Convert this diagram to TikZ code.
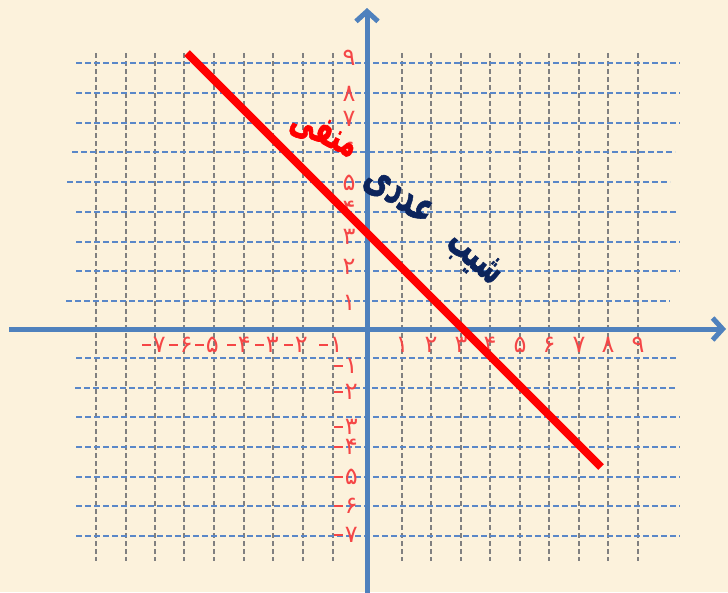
\documentclass[tikz,border=0pt]{standalone}
\usepackage{fontspec}
\usepackage{graphicx}
\newfontfamily\arabicfont[Script=Arabic,FakeBold=1.5]{DejaVu Sans}
\newfontfamily\digitfont{DejaVu Sans}
\TeXXeTstate=1
\usetikzlibrary{arrows.meta}
\definecolor{bgc}{RGB}{252,242,220}
\definecolor{axisblue}{RGB}{79,129,189}
\definecolor{gridblue}{RGB}{90,135,200}
\definecolor{gridgray}{RGB}{128,128,128}
\definecolor{digred}{RGB}{245,70,70}
\definecolor{navy}{RGB}{12,36,92}
\newcommand{\negsign}{\rule[7pt]{9pt}{1.3pt}\hspace{1.5pt}}
\tikzset{
  hgrid/.style={gridblue, line width=2pt, dash pattern=on 6pt off 3pt},
  vgrid/.style={gridgray, line width=1.5pt, dash pattern=on 5pt off 3pt},
  axisline/.style={axisblue, line width=5pt, -{Straight Barb[length=10pt,width=22pt]}},
  lab/.style={digred, font=\digitfont\fontsize{24}{24}\selectfont, inner sep=0pt},
  slopeline/.style={red, line width=8pt},
  word/.style={inner sep=0pt, font=\arabicfont\bfseries\fontsize{30}{30}\selectfont},
}
\begin{document}
\begin{tikzpicture}[x=1pt,y=-1pt]
\useasboundingbox (0,0) rectangle (728,592);
\fill[bgc] (0,0) rectangle (728,592);
% vertical grid lines
\foreach \x in {96,126,155,184,214,244,273,303,333,402,431,461,490,520,549,579,608,638}
  \draw[vgrid] (\x,53) -- (\x,561);
% horizontal grid lines
\foreach \y/\a/\b in {63/76/680,93/76/680,123/76/680,152/72/675,182/67/670,212/76/678,242/76/680,271/76/680,301/66/670,358/76/678,388/75/677,417/76/680,447/76/680,477/76/680,506/76/680,536/76/680}
  \draw[hgrid] (\a,\y) -- (\b,\y);
% axes
\coordinate (xl) at (9,329);
\coordinate (xr) at (726,329);
\coordinate (yb) at (367,594);
\coordinate (yt) at (367,8);
\draw[axisline] (xl) -- (xr);
\draw[axisline] (yb) -- (yt);
% x labels
\foreach \x/\d in {402/۱,431/۲,461/۳,490/۴,520/۵,549/۶,579/۷,608/۸,638/۹}
  \node[lab] (xp\d) at (\x,345) {\d};
\foreach \x/\d in {154/۷,181/۶,207/۵,239/۴,267/۳,296/۲,331/۱}
  \node[lab] (xn\d) at (\x,345) {\negsign\d};
% y labels
\foreach \y/\d in {58/۹,94/۸,119/۷,150/۶,183/۵,209/۴,237/۳,267/۲,303/۱}
  \node[lab] (yp\d) at (349,\y) {\d};
\foreach \y/\d in {366/۱,392/۲,427/۳,447/۴,477/۵,506/۶,535/۷}
  \node[lab] (yn\d) at (346,\y) {\negsign\d};
% slope line
\coordinate (la) at (187,53);
\coordinate (lb) at (601,467);
\draw[slopeline] (la) -- (lb);
% title words
\node[word, navy, rotate=-40] (w1) at (474,259) {\resizebox*{62pt}{32pt}{\beginR شیب\endR}};
\node[word, navy, rotate=-34] (w2) at (398,197) {\resizebox*{75pt}{28pt}{\beginR عددی\endR}};
\node[word, red, rotate=-25] (w3) at (324,134) {\resizebox*{70pt}{30pt}{\beginR منفی\endR}};
\end{tikzpicture}
\end{document}
